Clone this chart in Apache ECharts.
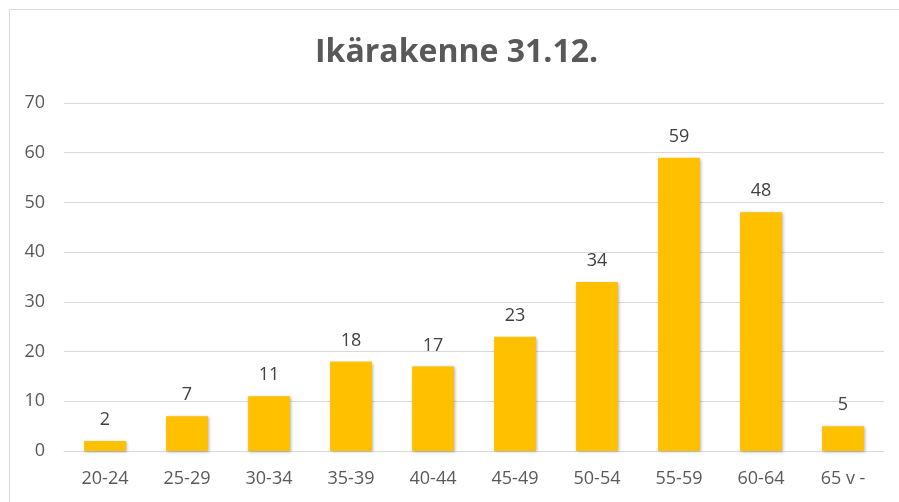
<!DOCTYPE html>
<html><head><meta charset="utf-8">
<script src="https://cdn.jsdelivr.net/npm/echarts@6/dist/echarts.min.js"></script>
<style>html,body{margin:0;padding:0;background:#fff}#c{width:899px;height:502px}</style>
</head><body><div id="c"></div>
<script>
const titleText = 'Ikärakenne 31.12.';
const categories = ['20-24','25-29','30-34','35-39','40-44','45-49','50-54','55-59','60-64','65 v -'];
const values = [2,7,11,18,17,23,34,59,48,5];
const yTicks = {min:0, max:70, interval:10};

const chart = echarts.init(document.getElementById('c'), null, {renderer:'canvas'});
chart.setOption({
  animation:false,
  backgroundColor:'#ffffff',
  title:{text:titleText,left:310,top:32,
    textStyle:{fontFamily:'Open Sans',fontSize:32,fontWeight:'bold',color:'#595959'}},
  graphic:[{type:'rect',shape:{x:9.5,y:9.5,width:900,height:600},
    style:{fill:'none',stroke:'#d9d9d9',lineWidth:1},silent:true}],
  grid:{left:64,right:15,top:103,bottom:51,containLabel:false},
  xAxis:{type:'category',data:categories,
    axisLine:{show:true,lineStyle:{color:'#d9d9d9',width:1}},
    axisTick:{show:false},
    axisLabel:{color:'#595959',fontFamily:'Open Sans',fontSize:18,margin:19}},
  yAxis:{type:'value',min:yTicks.min,max:yTicks.max,interval:yTicks.interval,
    axisLine:{show:false},axisTick:{show:false},
    splitLine:{lineStyle:{color:'#d9d9d9',width:1}},
    axisLabel:{color:'#595959',fontFamily:'Open Sans',fontSize:18,margin:19}},
  series:[{type:'bar',data:values,barWidth:'51%',
    itemStyle:{color:'#FFC000',shadowColor:'rgba(0,0,0,0.3)',shadowBlur:3,shadowOffsetX:1,shadowOffsetY:1},
    label:{show:true,position:'top',distance:12,color:'#404040',fontFamily:'Open Sans',fontSize:18}}]
});
</script></body></html>
